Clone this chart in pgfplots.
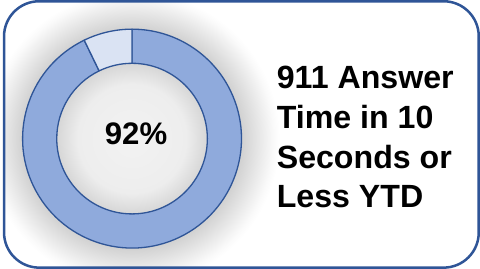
\documentclass[border=0pt]{standalone}
\usepackage{pgfplots}
\pgfplotsset{compat=1.18}
\usepackage{pgfplotstable}
\usepackage{fontspec}
\setmainfont{Liberation Sans}
\definecolor{ringdark}{HTML}{8FAADC}
\definecolor{ringlight}{HTML}{DAE3F3}
\definecolor{edgeblue}{HTML}{2F5597}
\pgfdeclareradialshading{ringshadow}{\pgfpointorigin}{%
  color(0bp)=(black!5);
  color(9bp)=(black!7);
  color(12.5bp)=(black!16);
  color(18.2bp)=(black!18);
  color(21.5bp)=(black!8);
  color(23.5bp)=(black!2);
  color(24.5bp)=(white);
  color(50bp)=(white)}
\pgfplotstableread{
status value
Within 92.8
Over 7.2
}\donutdata
\begin{document}
\pgfplotstablegetelem{0}{value}\of\donutdata
\let\vA\pgfplotsretval
\pgfplotstablegetelem{1}{value}\of\donutdata
\let\vB\pgfplotsretval
\pgfmathsetmacro{\angB}{90+360*\vB/(\vA+\vB)}
\begin{tikzpicture}
\begin{axis}[
  x=1bp, y=1bp,
  xmin=0, xmax=480, ymin=0, ymax=272,
  hide axis, clip=false,
]
\begin{scope}
  \clip[rounded corners=35bp] (axis cs:5.5,1.5) rectangle (axis cs:478.3,266.8);
  \shade[shading=ringshadow] (axis cs:133,130) circle[radius=150bp];
\end{scope}
\draw[edgeblue, line width=2.5bp, rounded corners=35bp]
  (axis cs:5.5,1.5) rectangle (axis cs:478.3,266.8);
% major segment
\filldraw[fill=ringdark, draw=edgeblue, line width=1.3bp, line join=round]
  (axis cs:133,130) ++(\angB:109bp)
  arc[start angle=\angB, end angle=450, radius=109bp]
  -- ++(270:34bp)
  arc[start angle=450, end angle=\angB, radius=75bp] -- cycle;
% minor segment
\filldraw[fill=ringlight, draw=edgeblue, line width=1.3bp, line join=round]
  (axis cs:133,130) ++(90:109bp)
  arc[start angle=90, end angle=\angB, radius=109bp]
  -- ++(\angB+180:34bp)
  arc[start angle=\angB, end angle=90, radius=75bp] -- cycle;
\node[anchor=base, inner sep=0pt, font=\fontsize{31bp}{36bp}\selectfont\bfseries]
  at (axis cs:137,124) {92\%};
\begin{scope}[every node/.style={anchor=base west, inner sep=0pt,
    font=\fontsize{32bp}{38bp}\selectfont\bfseries}]
  \node at (axis cs:277,180) {911 Answer};
  \node at (axis cs:277,140.3) {Time in 10};
  \node at (axis cs:277,100.7) {Seconds or};
  \node at (axis cs:277,61) {Less YTD};
\end{scope}
\end{axis}
\end{tikzpicture}
\end{document}
